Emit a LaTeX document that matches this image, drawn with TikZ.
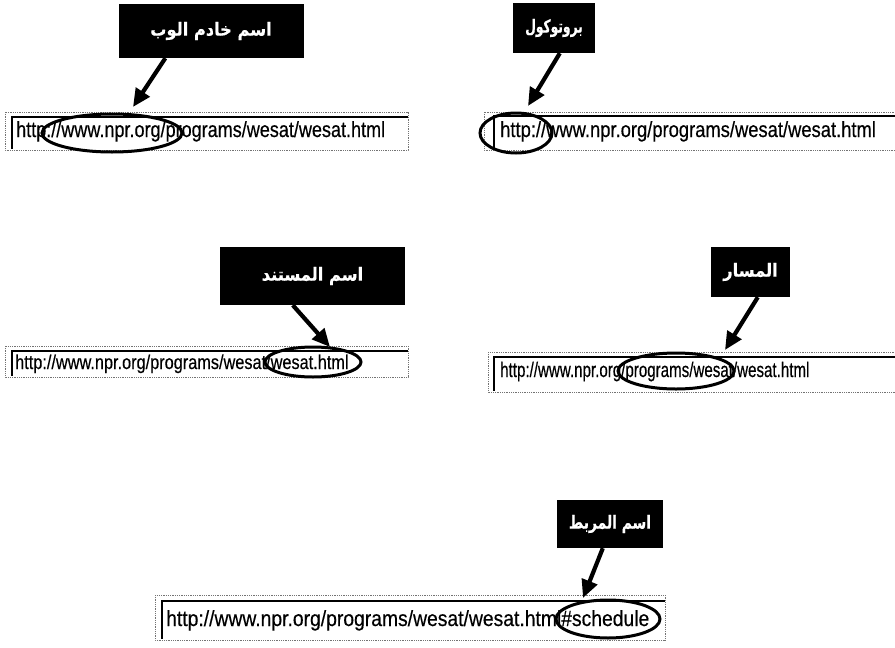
\documentclass[tikz,border=0pt]{standalone}
\usepackage{fontspec}
\setmainfont{Liberation Sans}
\newfontfamily\urlfont[FakeBold=0.4]{Liberation Sans}
\newfontfamily\arabicfont[Script=Arabic,FakeBold=0.5]{DejaVu Sans}
\TeXXeTstate=1
\usetikzlibrary{arrows.meta,shapes.geometric}
\begin{document}
\begin{tikzpicture}[x=1pt,y=-1pt,
  lbl/.style={fill=black,text=white,inner sep=0pt,
    font=\arabicfont\bfseries\fontsize{18}{21}\selectfont},
  urltxt/.style={anchor=base west,inner sep=0pt,font=\urlfont},
  ring/.style={draw=black,ellipse,line width=3pt,inner sep=0pt},
  fieldout/.style={draw=black!55,densely dotted,line width=0.8pt},
  fieldin/.style={draw=black,line width=1.8pt},
  arr/.style={draw=black,line width=4.2pt,-{Triangle[length=18pt,width=16pt]}}
]
\useasboundingbox[fill=white] (0,0) rectangle (895,648);

% ---------- Panel 1 : web server name
\node[lbl,minimum width=185pt,minimum height=54pt] (b1) at (211,31) {\scalebox{0.9}[1]{\beginR اسم خادم الوب\endR}};
\draw[fieldout] (5,112) rectangle (408,150);
\draw[fieldin] (408,117) -| (12,149);
\node[urltxt] (u1) at (16,137) {\fontsize{22}{26}\selectfont\scalebox{0.82}[1]{http://www.npr.org/programs/wesat/wesat.html}};
\node[ring,minimum width=140pt,minimum height=38pt] (e1) at (112,133) {};
\coordinate (t1) at (133,107);
\draw[arr] ([xshift=47pt]b1.south west) -- (t1);

% ---------- Panel 2 : protocol
\node[lbl,minimum width=82pt,minimum height=50pt] (b2) at (554,28) {\scalebox{0.68}[1]{\beginR بروتوكول\endR}};
\draw[fieldout] (484,112) rectangle (895,150);
\draw[fieldin] (895,116) -| (494,149);
\node[urltxt] (u2) at (500,137) {\fontsize{22}{26}\selectfont\scalebox{0.835}[1]{http://www.npr.org/programs/wesat/wesat.html}};
\node[ring,minimum width=72pt,minimum height=40pt] (e2) at (516,133) {};
\coordinate (t2) at (528,106);
\draw[arr] ([xshift=47pt]b2.south west) -- (t2);

% ---------- Panel 3 : document name
\node[lbl,minimum width=185pt,minimum height=58pt] (b3) at (312.5,276) {\scalebox{0.9}[1]{\beginR اسم المستند\endR}};
\draw[fieldout] (5,346) rectangle (408,377);
\draw[fieldin] (408,351) -| (12,376);
\node[urltxt] (u3) at (15,369) {\fontsize{20}{24}\selectfont\scalebox{0.815}[1]{http://www.npr.org/programs/wesat/wesat.html}};
\node[ring,minimum width=96pt,minimum height=30pt] (e3) at (313,362) {};
\coordinate (t3) at (330,347);
\draw[arr] ([xshift=73pt]b3.south west) -- (t3);

% ---------- Panel 4 : path
\node[lbl,minimum width=79pt,minimum height=50pt] (b4) at (750.5,272) {\scalebox{0.9}[1]{\beginR المسار\endR}};
\draw[fieldout] (488,352) rectangle (895,392);
\draw[fieldin] (895,357) -| (494,391);
\node[urltxt] (u4) at (500,377) {\fontsize{21}{25}\selectfont\scalebox{0.72}[1]{http://www.npr.org/programs/wesat/wesat.html}};
\node[ring,minimum width=116pt,minimum height=36pt] (e4) at (676,371) {};
\coordinate (t4) at (725,350);
\draw[arr] ([xshift=47pt]b4.south west) -- (t4);

% ---------- Panel 5 : anchor name
\node[lbl,minimum width=106pt,minimum height=48pt] (b5) at (610,524) {\scalebox{0.77}[1]{\beginR اسم المربط\endR}};
\draw[fieldout] (155,595) rectangle (665,640);
\draw[fieldin] (665,601) -| (162,639);
\node[urltxt] (u5) at (166,626) {\fontsize{22}{26}\selectfont\scalebox{0.878}[1]{http://www.npr.org/programs/wesat/wesat.html\#schedule}};
\node[ring,minimum width=104pt,minimum height=38pt] (e5) at (608,619) {};
\coordinate (t5) at (583,598);
\draw[arr] ([xshift=46pt]b5.south west) -- (t5);
\end{tikzpicture}
\end{document}
